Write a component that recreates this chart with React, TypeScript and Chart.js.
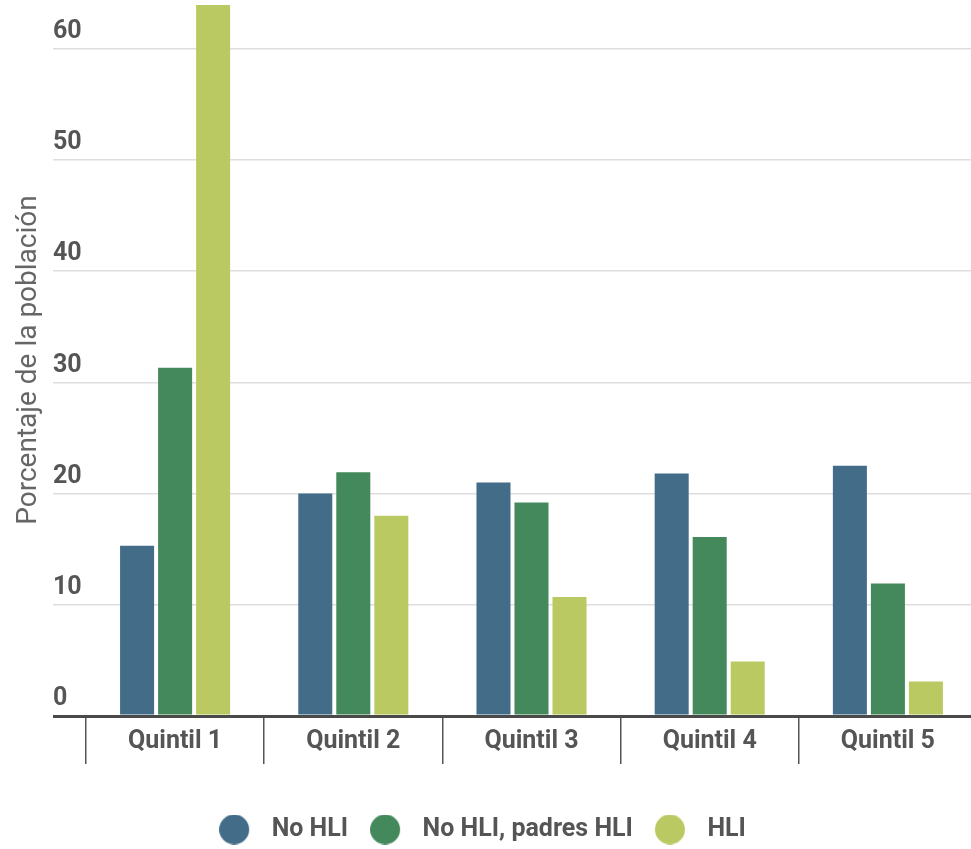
import React, { useEffect, useRef } from "react";
import { Chart, registerables } from "chart.js";

Chart.register(...registerables);

const categories = ["Quintil 1", "Quintil 2", "Quintil 3", "Quintil 4", "Quintil 5"];
const seriesNames = ["No HLI", "No HLI, padres HLI", "HLI"];
const noHLI = [15.3, 20.0, 21.0, 21.8, 22.5];
const noHLIPadresHLI = [31.3, 21.9, 19.2, 16.1, 11.9];
const hli = [63.9, 18.0, 10.7, 4.9, 3.1];
const yTickValues = [0, 10, 20, 30, 40, 50, 60];
const yMin = 0;
const yMax = 64;
const yTitle = "Porcentaje de la población";

const seriesColors = ["#426c88", "#44895c", "#bbc963"];
const FONT = "Roboto, 'Noto Sans', sans-serif";
const TEXT = "#555555";

function makeDot(color: string, w: number, d: number) {
  // legend marker: circle of diameter d sitting at the left of a w-wide box
  const c = document.createElement("canvas");
  c.width = w;
  c.height = d;
  const ctx = c.getContext("2d")!;
  ctx.fillStyle = color;
  ctx.beginPath();
  ctx.arc(d / 2, d / 2, d / 2, 0, Math.PI * 2);
  ctx.fill();
  return c;
}

export default function App() {
  const ref = useRef<HTMLCanvasElement | null>(null);

  useEffect(() => {
    if (!ref.current) return;
    const dots = seriesColors.map((c) => makeDot(c, 40, 30));
    const seriesData = [noHLI, noHLIPadresHLI, hli];
    const chart = new Chart(ref.current, {
      type: "bar",
      data: {
        labels: categories,
        datasets: seriesNames.map((name, i) => ({
          label: name,
          data: seriesData[i],
          backgroundColor: seriesColors[i],
          borderWidth: 0,
          categoryPercentage: 0.64,
          barPercentage: 0.895,
        })),
      },
      options: {
        responsive: false,
        animation: false,
        layout: { padding: { top: 4, left: -12, right: 0, bottom: -3 } },
        plugins: {
          tooltip: { enabled: false },
          legend: {
            position: "bottom",
            align: "center",
            labels: {
              usePointStyle: true,
              pointStyleWidth: 40,
              padding: 22,
              color: TEXT,
              font: { family: FONT, size: 25, weight: "bold" },
              generateLabels: (chart: any) =>
                Chart.defaults.plugins.legend.labels
                  .generateLabels(chart)
                  .map((l: any, i: number) => ({ ...l, pointStyle: dots[i] })),
            },
          },
        },
        scales: {
          x: {
            offset: true,
            grid: {
              offset: true,
              drawOnChartArea: false,
              drawTicks: true,
              tickLength: 48,
              color: TEXT,
              lineWidth: 1.5,
            },
            border: { display: false },
            ticks: {
              color: TEXT,
              padding: -37,
              font: { family: FONT, size: 25, weight: "bold" },
            },
            afterFit: (s: any) => {
              s.height = 79;
            },
          },
          y: {
            min: yMin,
            max: yMax,
            afterBuildTicks: (s: any) => {
              s.ticks = yTickValues.map((v) => ({ value: v }));
            },
            grid: {
              drawTicks: true,
              tickLength: 33,
              color: (c: any) => (c.tick && c.tick.value === 0 ? "#4a4a4a" : "#dedede"),
              lineWidth: (c: any) => (c.tick && c.tick.value === 0 ? 3 : 1.5),
            },
            border: { display: false },
            ticks: {
              mirror: true,
              padding: -33,
              labelOffset: -17,
              color: TEXT,
              font: { family: FONT, size: 25, weight: "bold" },
            },
            title: {
              display: true,
              text: yTitle,
              color: "#666666",
              padding: { top: 24, bottom: 0 },
              font: { family: FONT, size: 28, weight: "400" },
            },
            afterFit: (s: any) => {
              s.width = 98;
              s.paddingTop = 0;
              s.paddingBottom = 0;
            },
          },
        },
      },
    } as any);
    return () => chart.destroy();
  }, []);

  return (
    <div style={{ position: "absolute", left: 0, top: 0, width: 971, height: 849, overflow: "hidden" }}>
      <canvas ref={ref} width={977} height={849} style={{ display: "block" }} />
    </div>
  );
}
